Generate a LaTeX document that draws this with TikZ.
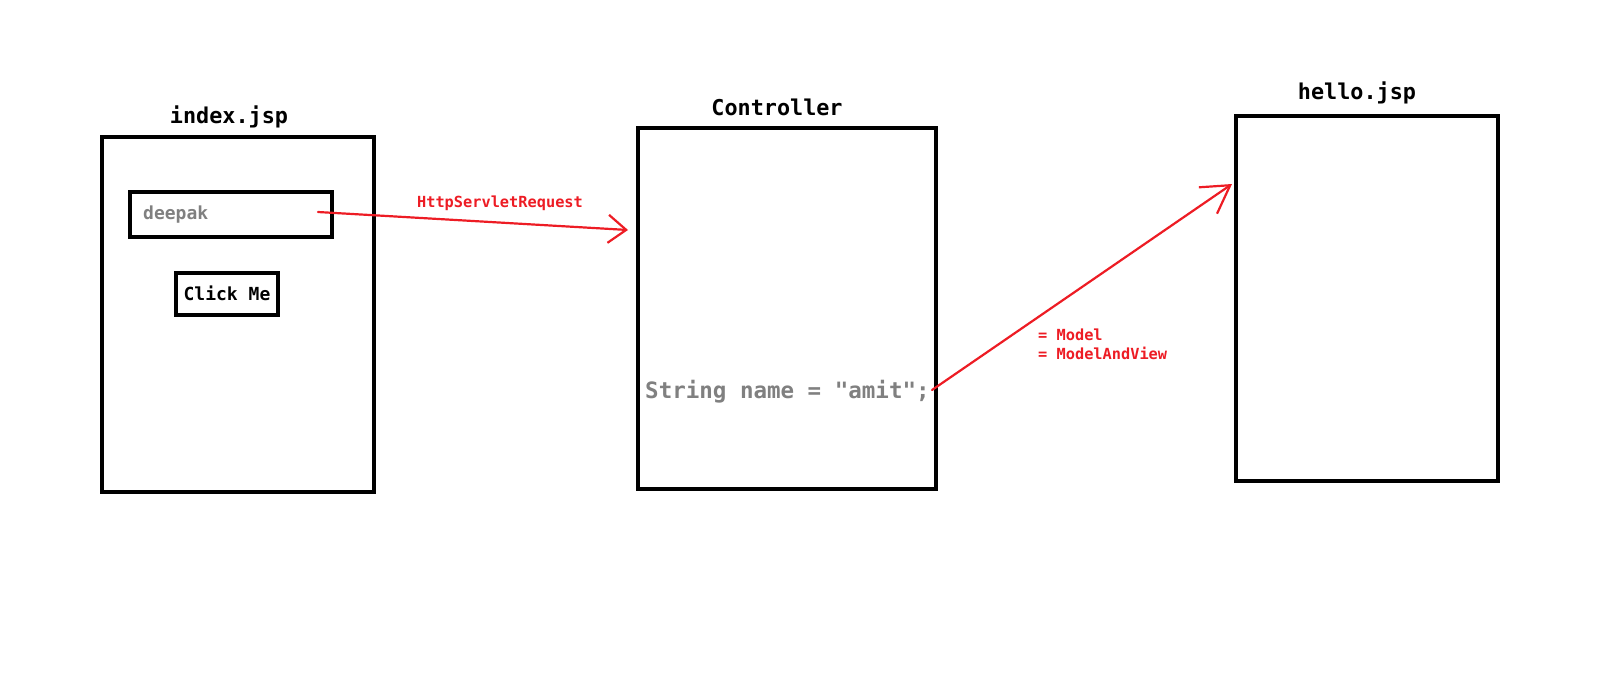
\documentclass[tikz,border=0pt]{standalone}
\usepackage{fontspec}
\setmonofont{DejaVu Sans Mono}
\usetikzlibrary{arrows.meta}
\definecolor{paintred}{RGB}{237,28,36}
\definecolor{codegray}{RGB}{128,128,128}
\tikzset{
  page/.style={draw, line width=4pt, inner sep=0pt},
  field/.style={draw, line width=4pt, inner sep=0pt},
  title/.style={font=\ttfamily\bfseries\fontsize{21.8}{26}\selectfont, inner sep=0pt},
  widget/.style={font=\ttfamily\bfseries\fontsize{18}{22}\selectfont, inner sep=0pt},
  note/.style={font=\ttfamily\bfseries\fontsize{15.3}{19}\selectfont, text=paintred, inner sep=0pt},
  flow/.style={draw=paintred, line width=2.2pt, line cap=round}
}
\begin{document}
\begin{tikzpicture}[x=1pt, y=-1pt]
            \useasboundingbox (0,0) rectangle (1600,683);
            \node[page, minimum width=272pt, minimum height=355.5pt] (index) at (237.5,314.25) {};
            \node[page, minimum width=298.5pt, minimum height=361pt] (ctrl) at (786.75,308.5) {};
            \node[page, minimum width=261.5pt, minimum height=365pt] (hello) at (1366.75,298.5) {};
            \node[title, anchor=base] (indextitle) at (229,123) {index.jsp};
            \node[title, anchor=base] (ctrltitle) at (777,115) {Controller};
            \node[title, anchor=base] (hellotitle) at (1357,99) {hello.jsp};
            \node[field, minimum width=201.5pt, minimum height=45pt] (input) at (230.75,214.5) {};
            \node[widget, text=codegray, anchor=base west] (inputtext) at (143,219) {deepak};
            \node[field, minimum width=101.5pt, minimum height=42pt] (button) at (226.75,294) {};
            \node[widget, anchor=base] (buttontext) at (227,300) {Click Me};
            \node[font=\ttfamily\bfseries\fontsize{22.5}{27}\selectfont, text=codegray, inner sep=0pt, anchor=base west] (code) at (645,398) {String name = "amit";};
            \node[note, anchor=base] (reqlabel) at (500,207) {HttpServletRequest};
            \node[note, anchor=base west] (modellabel) at (1038,340) {= Model};
            \node[note, anchor=base west] (mavlabel) at (1038,359) {= ModelAndView};
            \coordinate (reqstart) at (318,212);
            \coordinate (reqend) at (628,230);
            \coordinate (respstart) at (932,390);
            \coordinate (respend) at (1232,184);
            \draw[flow, -{Straight Barb[length=18pt, width=28pt]}] (reqstart) -- (reqend);
            \draw[flow, -{Straight Barb[length=27pt, width=32pt]}] (respstart) -- (respend);
        \end{tikzpicture}
\end{document}
